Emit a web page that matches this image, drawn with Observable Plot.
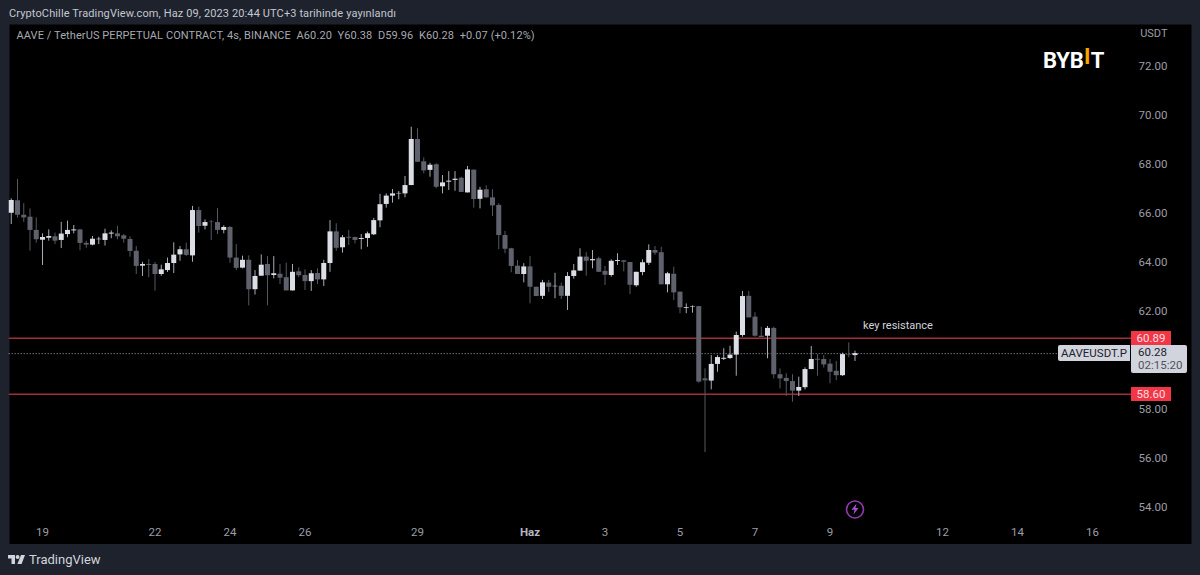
<!DOCTYPE html>
<html><head><meta charset="utf-8">
<script src="https://cdn.jsdelivr.net/npm/d3@7"></script>
<script src="https://cdn.jsdelivr.net/npm/@observablehq/plot@0.6"></script>
<style>
html,body{margin:0;padding:0;background:#1e222d;}
#page{position:relative;width:1200px;height:575px;overflow:hidden;background:#1e222d;font-family:Roboto,"Noto Sans",sans-serif;}
#page svg{position:absolute;}
.ov{position:absolute;white-space:nowrap;box-sizing:border-box;}
</style></head><body><div id="page"></div>
<script>
const opens=[66.01,66.52,65.93,65.85,65.31,64.91,64.99,65.05,64.90,65.14,65.29,65.33,64.78,64.71,64.93,64.90,65.16,65.17,65.09,64.94,64.46,63.85,63.92,63.92,63.51,63.67,63.96,64.31,64.52,64.27,66.12,65.48,65.65,65.63,65.31,65.43,64.18,63.77,64.09,62.89,63.44,63.92,63.47,63.52,63.38,62.84,63.62,63.47,63.22,63.55,63.29,63.96,65.25,64.60,65.03,65.02,64.94,64.98,65.13,65.70,66.37,66.71,66.80,66.80,67.14,69.02,68.11,67.76,67.99,67.09,67.28,67.35,67.44,66.84,67.77,66.58,66.97,66.64,66.33,65.10,64.56,63.85,63.51,63.82,62.99,62.62,63.16,63.01,63.03,62.62,63.43,63.65,64.22,64.07,64.15,63.64,63.47,64.04,64.07,64.00,63.05,63.59,63.97,64.49,64.40,63.09,63.52,62.79,62.13,62.18,62.20,59.25,59.16,59.84,60.05,60.08,60.22,61.02,62.62,61.77,60.99,60.99,61.31,59.42,59.27,59.14,58.75,58.89,59.63,60.05,60.04,59.85,59.56,59.38,60.24,60.20];
const highs=[66.60,67.39,66.40,66.19,65.82,65.17,65.33,65.20,65.64,65.69,65.51,65.35,64.87,65.06,65.03,65.36,65.29,65.48,65.14,65.05,64.65,64.01,64.12,64.00,63.89,64.18,64.80,64.65,64.79,66.29,66.26,65.74,65.71,66.20,65.50,65.47,64.73,64.26,64.27,63.67,64.31,64.24,64.24,63.92,63.97,63.92,63.78,63.70,63.67,63.74,64.09,65.71,65.58,65.10,65.31,65.03,65.14,65.24,65.80,66.78,66.80,66.98,66.90,67.51,69.52,69.46,68.27,68.05,68.03,67.55,67.71,67.71,67.48,67.92,67.77,67.07,67.13,66.97,66.40,65.27,64.58,64.08,63.95,64.24,62.99,63.27,63.27,63.56,63.16,63.59,63.92,64.56,64.40,64.49,64.22,63.84,64.11,64.36,64.08,64.00,63.60,64.11,64.72,64.65,64.62,63.60,63.81,62.79,62.31,62.23,62.20,59.66,60.20,60.20,60.48,60.58,61.16,62.82,62.82,61.95,61.36,61.39,61.36,59.66,59.46,59.42,59.32,59.70,60.57,60.24,60.20,60.04,59.96,60.30,60.72,60.38];
const lows=[65.55,65.81,65.64,64.46,64.79,63.88,64.87,64.73,64.57,65.01,65.17,64.48,64.58,64.68,64.73,64.67,64.97,64.93,64.79,64.22,63.51,63.43,63.38,62.83,63.44,63.59,63.55,64.05,64.24,64.01,65.20,65.33,64.90,65.14,65.17,63.97,63.67,63.74,62.23,62.67,63.44,62.23,63.33,63.10,62.84,62.84,63.38,62.86,62.82,63.10,63.02,63.60,64.46,64.38,64.69,64.76,64.52,64.62,65.10,65.42,66.22,66.42,66.56,66.64,67.14,68.09,67.62,67.48,67.01,66.80,66.94,66.91,66.86,66.84,66.22,66.19,66.62,65.88,64.52,64.36,63.58,63.51,63.17,62.31,62.61,62.49,62.78,62.52,62.49,62.04,63.32,63.64,63.44,63.74,63.60,63.06,63.40,63.88,63.62,62.69,62.99,63.46,63.88,64.29,63.09,62.76,62.45,61.91,61.91,61.93,59.07,56.24,58.80,59.52,60.00,60.04,59.36,60.95,61.74,60.95,60.93,60.07,59.25,58.84,58.53,58.30,58.53,58.80,59.63,59.36,59.69,59.05,59.18,59.35,60.11,59.96];
const closes=[66.53,65.93,65.82,65.31,64.93,65.02,65.06,64.87,65.16,65.31,65.33,64.78,64.71,64.95,64.95,65.17,65.20,65.05,64.95,64.45,63.84,63.92,63.88,63.51,63.70,63.96,64.30,64.52,64.29,66.12,65.47,65.63,65.63,65.31,65.43,64.18,63.76,64.09,62.89,63.43,63.89,63.46,63.54,63.36,62.84,63.60,63.46,63.22,63.54,63.29,63.96,65.25,64.58,65.01,64.99,64.90,64.98,65.17,65.71,66.36,66.71,66.80,66.82,67.14,69.02,68.09,67.74,67.97,67.07,67.25,67.32,67.40,66.86,67.78,66.57,66.95,66.64,66.31,65.10,64.54,63.84,63.51,63.82,62.99,62.61,63.17,62.99,63.03,62.62,63.43,63.66,64.22,64.05,64.12,63.60,63.48,64.05,64.08,64.01,63.07,63.60,63.99,64.49,64.38,63.09,63.54,62.76,62.15,62.16,62.20,59.12,59.17,59.84,60.12,60.09,60.22,61.02,62.61,61.74,60.99,60.94,61.31,59.42,59.25,59.14,58.75,58.90,59.63,60.04,60.01,59.82,59.52,59.38,60.24,60.22,60.28];

const priceTicks=[54,56,58,62,64,66,68,70,72];
const dayTicks=["2023-05-19","2023-05-22","2023-05-24","2023-05-26","2023-05-29","2023-06-03","2023-06-05","2023-06-07","2023-06-09","2023-06-12","2023-06-14","2023-06-16"].map(d=>new Date(d+"T00:00Z"));
const monthTick=[new Date("2023-06-01T00:00Z")];
const monthLabel="Haz";
const levels=[60.89,58.60];
const lastPrice=60.28;
const note={text:"key resistance",date:new Date("2023-06-10T19:30Z"),price:61.43};
const boltAt={date:new Date("2023-06-09T16:00Z"),price:53.92};
const start=Date.UTC(2023,4,18,4);
const candles=opens.map((o,i)=>({t:new Date(start+i*4*3600e3),o,h:highs[i],l:lows[i],c:closes[i],up:closes[i]>=o}));
const UP="#dcdee5",DOWN="#5f626d",AXIS="#9b9ea7";
const ttl="AAVE / TetherUS PERPETUAL CONTRACT, 4s, BINANCE\u00a0\u00a0A60.20\u00a0\u00a0Y60.38\u00a0\u00a0D59.96\u00a0\u00a0K60.28\u00a0\u00a0+0.07 (+0.12%)";
const leftEdge=new Date("2023-05-18T02:40Z");

const chart=Plot.plot({
  width:1200,height:520,marginLeft:9,marginRight:9,marginTop:0,marginBottom:0,
  style:{background:"transparent",fontFamily:"Roboto,'Noto Sans',sans-serif",left:0,top:"24px"},
  x:{type:"utc",domain:[new Date("2023-05-19T00:00Z"),new Date("2023-06-16T00:00Z")],range:[42,1092]},
  y:{type:"linear",domain:[72,54],range:[42,483]},
  marks:[
    Plot.frame({fill:"#000"}),
    Plot.axisY(priceTicks,{anchor:"right",tickSize:0,tickPadding:-53,textAnchor:"start",tickFormat:d=>d.toFixed(2),fill:AXIS,fontSize:11.5,label:null}),
    Plot.axisX(dayTicks,{anchor:"bottom",tickSize:0,tickPadding:-17,tickFormat:d=>String(d.getUTCDate()),fill:AXIS,fontSize:11.5,label:null}),
    Plot.axisX(monthTick,{anchor:"bottom",tickSize:0,tickPadding:-17,tickFormat:()=>monthLabel,fill:"#b4b7bf",fontSize:11.5,fontWeight:"bold",label:null}),
    Plot.ruleY(levels,{stroke:"#a02f3b",strokeWidth:1.6,dy:-0.5,x1:leftEdge,x2:new Date("2023-06-17T01:00Z")}),
    Plot.ruleY([lastPrice],{stroke:"#a0a3ab",strokeWidth:1,strokeDasharray:"1,2",x1:leftEdge,x2:new Date("2023-06-15T02:00Z")}),
    Plot.ruleX(candles,{x:"t",y1:"l",y2:"h",stroke:d=>d.up?"#a9abb3":"#55585f",strokeWidth:1}),
    Plot.ruleX(candles,{x:"t",y1:d=>Math.min(d.o,d.c),y2:d=>Math.max(d.o,d.c),stroke:d=>d.up?UP:DOWN,strokeWidth:5}),
    Plot.text([ttl],{frameAnchor:"top-left",dx:7,dy:7,textAnchor:"start",fill:"#a6a9b1",fontSize:11,letterSpacing:"0.09px"}),
    Plot.text(["USDT"],{frameAnchor:"top-right",dx:-24,dy:5,textAnchor:"end",fill:AXIS,fontSize:11}),
    Plot.text([note],{x:"date",y:"price",text:"text",fill:"#d1d4dc",fontSize:11}),
    Plot.dot([boltAt],{x:"date",y:"price",r:8.5,stroke:"#8e3bb0",strokeWidth:1.6,fill:"#000"})
  ]
});
chart.querySelectorAll("text").forEach(t=>{ if(t.textContent.startsWith("AAVE /")) t.style.letterSpacing="0.09px"; });
const page=document.getElementById("page");
page.appendChild(chart);
const Y=v=>chart.scale("y").apply(v)+24;
const X=d=>chart.scale("x").apply(d);
function ov(html,left,top,w,h,css){
  const e=document.createElement("div");e.className="ov";e.innerHTML=html;
  e.style.cssText=`left:${left}px;top:${top}px;${w?`width:${w}px;`:""}${h?`height:${h}px;line-height:${h}px;`:""}${css||""}`;
  page.appendChild(e);return e;
}
ov("CryptoChille TradingView.com, Haz 09, 2023 20:44 UTC+3 tarihinde yayınlandı",9,6,0,16,"font-size:11px;color:#c4c7cf;letter-spacing:0.12px;");
levels.forEach(v=>{
  ov(v.toFixed(2),1131,Y(v)-7,40,14,"background:#f23645;color:#fbdfe2;font-size:11.5px;text-align:center;");
});
ov("AAVEUSDT.P",1058,Y(lastPrice)-8,72,16,"background:#d1d4dc;color:#1e222d;font-size:11.5px;text-align:center;border-radius:2px 0 0 2px;");
ov(`<div style="height:14px;line-height:14px">${lastPrice.toFixed(2)}</div><div style="height:13px;line-height:13px;color:#4f525c">02:15:20</div>`,1131,Y(lastPrice)-8,56,28,"background:#d1d4dc;color:#1e222d;font-size:11.5px;padding-left:7px;border-radius:0 2px 2px 2px;line-height:normal;");
ov(`BYB<span style="color:#f7a600;position:relative;top:-4px;margin:0 0.5px">I</span>T`,1043,50,0,22,"font-size:22px;font-weight:700;color:#fff;letter-spacing:-0.2px;");
const bx=X(boltAt.date),by=Y(boltAt.price);
ov(`<svg width="12" height="12" viewBox="0 0 12 12" style="position:static"><path d="M7.5 0.5 L2.5 6.8 H5.5 L4.5 11.5 L9.5 5 H6.5 Z" fill="#a64fd0"/></svg>`,bx-6,by-6,12,12,"");
ov(`<svg width="17" height="9" viewBox="0 0 17 9" style="position:static"><path d="M0 0H7V9H3.5V3.5H0Z M13 0H17L13.6 9H9.4Z" fill="#d1d4dc"/><circle cx="9.6" cy="2" r="1.9" fill="#d1d4dc"/></svg>`,8,555,17,9,"line-height:0;");
ov("TradingView",29,552,0,16,"font-size:13px;color:#d1d4dc;");
</script></body></html>
